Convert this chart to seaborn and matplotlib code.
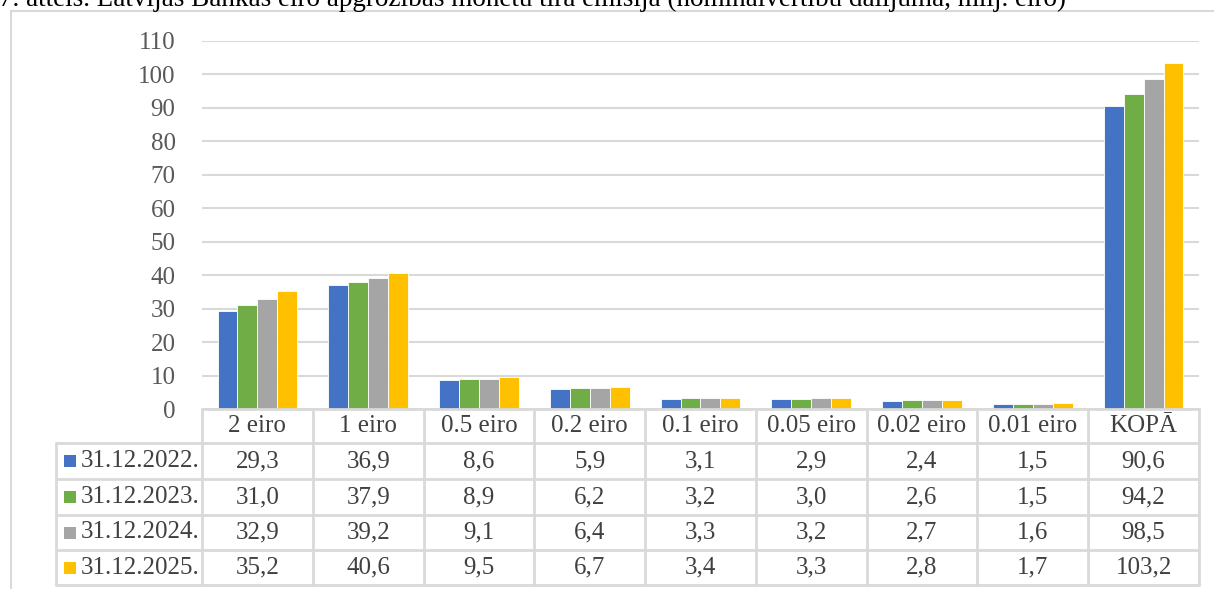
import matplotlib.pyplot as plt
import seaborn as sns
import pandas as pd
from matplotlib.lines import Line2D
from matplotlib.patches import Rectangle

categories = ["2 eiro", "1 eiro", "0.5 eiro", "0.2 eiro", "0.1 eiro",
              "0.05 eiro", "0.02 eiro", "0.01 eiro", "KOPĀ"]
series_names = ["31.12.2022.", "31.12.2023.", "31.12.2024.", "31.12.2025."]
v_2022 = [29.3, 36.9, 8.6, 5.9, 3.1, 2.9, 2.4, 1.5, 90.6]
v_2023 = [31.0, 37.9, 8.9, 6.2, 3.2, 3.0, 2.6, 1.5, 94.2]
v_2024 = [32.9, 39.2, 9.1, 6.4, 3.3, 3.2, 2.7, 1.6, 98.5]
v_2025 = [35.2, 40.6, 9.5, 6.7, 3.4, 3.3, 2.8, 1.7, 103.2]
colors = ["#4472C4", "#70AD47", "#A5A5A5", "#FFC000"]
y_ticks = list(range(0, 111, 10))

title = ("7. attēls. Latvijas Bankas eiro apgrozības monētu tīrā emisija "
         "(nominālvērtību dalījumā, milj. eiro)")

series_values = [v_2022, v_2023, v_2024, v_2025]
rows = []
for name, vals in zip(series_names, series_values):
    for cat, v in zip(categories, vals):
        rows.append({"cat": cat, "series": name, "value": v})
df = pd.DataFrame(rows)

sns.set_style("white")
plt.rcParams["font.family"] = ["Liberation Serif", "DejaVu Serif"]

W, H = 1214, 589
fig = plt.figure(figsize=(W / 100, H / 100), dpi=100)


def fx(px):
    return px / W


def fy(py):
    return 1 - py / H


# plot area in pixel coordinates
left, right, top, bottom = 202, 1199, 40.7, 409
ax = fig.add_axes([fx(left), fy(bottom), fx(right - left), (bottom - top) / H])

sns.barplot(data=df, x="cat", y="value", hue="series", palette=colors,
            saturation=1, width=0.72, edgecolor="white", linewidth=0.6,
            ax=ax, legend=False)

ax.set_ylim(0, 110)
ax.set_xlim(-0.5, len(categories) - 0.5)
ax.set_yticks(y_ticks)
ax.set_yticklabels([str(t) for t in y_ticks], fontsize=18, color="#595959")
ax.tick_params(axis="y", length=0, pad=19)
ax.set_xticks([])
ax.set_xlabel("")
ax.set_ylabel("")
ax.yaxis.grid(True, color="#D9D9D9", linewidth=1.5)
ax.set_axisbelow(True)
for s in ax.spines.values():
    s.set_visible(False)

# chart border
fig.add_artist(Line2D([fx(11), fx(11)], [fy(11), fy(H + 5)],
                      transform=fig.transFigure, color="#D9D9D9", lw=1.5))
fig.add_artist(Line2D([fx(11), fx(W + 5)], [fy(11), fy(11)],
                      transform=fig.transFigure, color="#D9D9D9", lw=1.5))

# title (cut off at the top, as in the source)
fig.text(fx(-1), fy(6), title, fontsize=19.5, color="black",
         ha="left", va="baseline")

# data table under the chart
col_w = (right - left) / len(categories)
row_edges = [409, 443, 479, 515, 550, 585]
leg_left = 56
line_kw = dict(transform=fig.transFigure, color="#D9D9D9", lw=2)

# horizontal lines
fig.add_artist(Line2D([fx(left), fx(right)], [fy(row_edges[0])] * 2, **line_kw))
for y in row_edges[1:]:
    fig.add_artist(Line2D([fx(leg_left), fx(right)], [fy(y)] * 2, **line_kw))
# vertical lines
fig.add_artist(Line2D([fx(leg_left)] * 2, [fy(row_edges[1]), fy(row_edges[-1])], **line_kw))
for i in range(len(categories) + 1):
    x = left + i * col_w
    fig.add_artist(Line2D([fx(x)] * 2, [fy(row_edges[0]), fy(row_edges[-1])], **line_kw))

txt_kw = dict(fontsize=18, color="#404040")

# header
hy = (row_edges[0] + row_edges[1]) / 2
for i, cat in enumerate(categories):
    fig.text(fx(left + (i + 0.5) * col_w), fy(hy), cat,
             ha="center", va="center", **txt_kw)

# rows
for r, (name, vals, c) in enumerate(zip(series_names, series_values, colors)):
    cy = (row_edges[r + 1] + row_edges[r + 2]) / 2
    fig.add_artist(Rectangle((fx(64), fy(cy + 6)), 12 / W, 12 / H,
                             transform=fig.transFigure, facecolor=c, edgecolor="none"))
    fig.text(fx(81), fy(cy), name, ha="left", va="center", **txt_kw)
    for i, v in enumerate(vals):
        fig.text(fx(left + (i + 0.5) * col_w), fy(cy), f"{v:.1f}".replace(".", ","),
                 ha="center", va="center", **txt_kw)

fig.savefig("out.png", dpi=100)
